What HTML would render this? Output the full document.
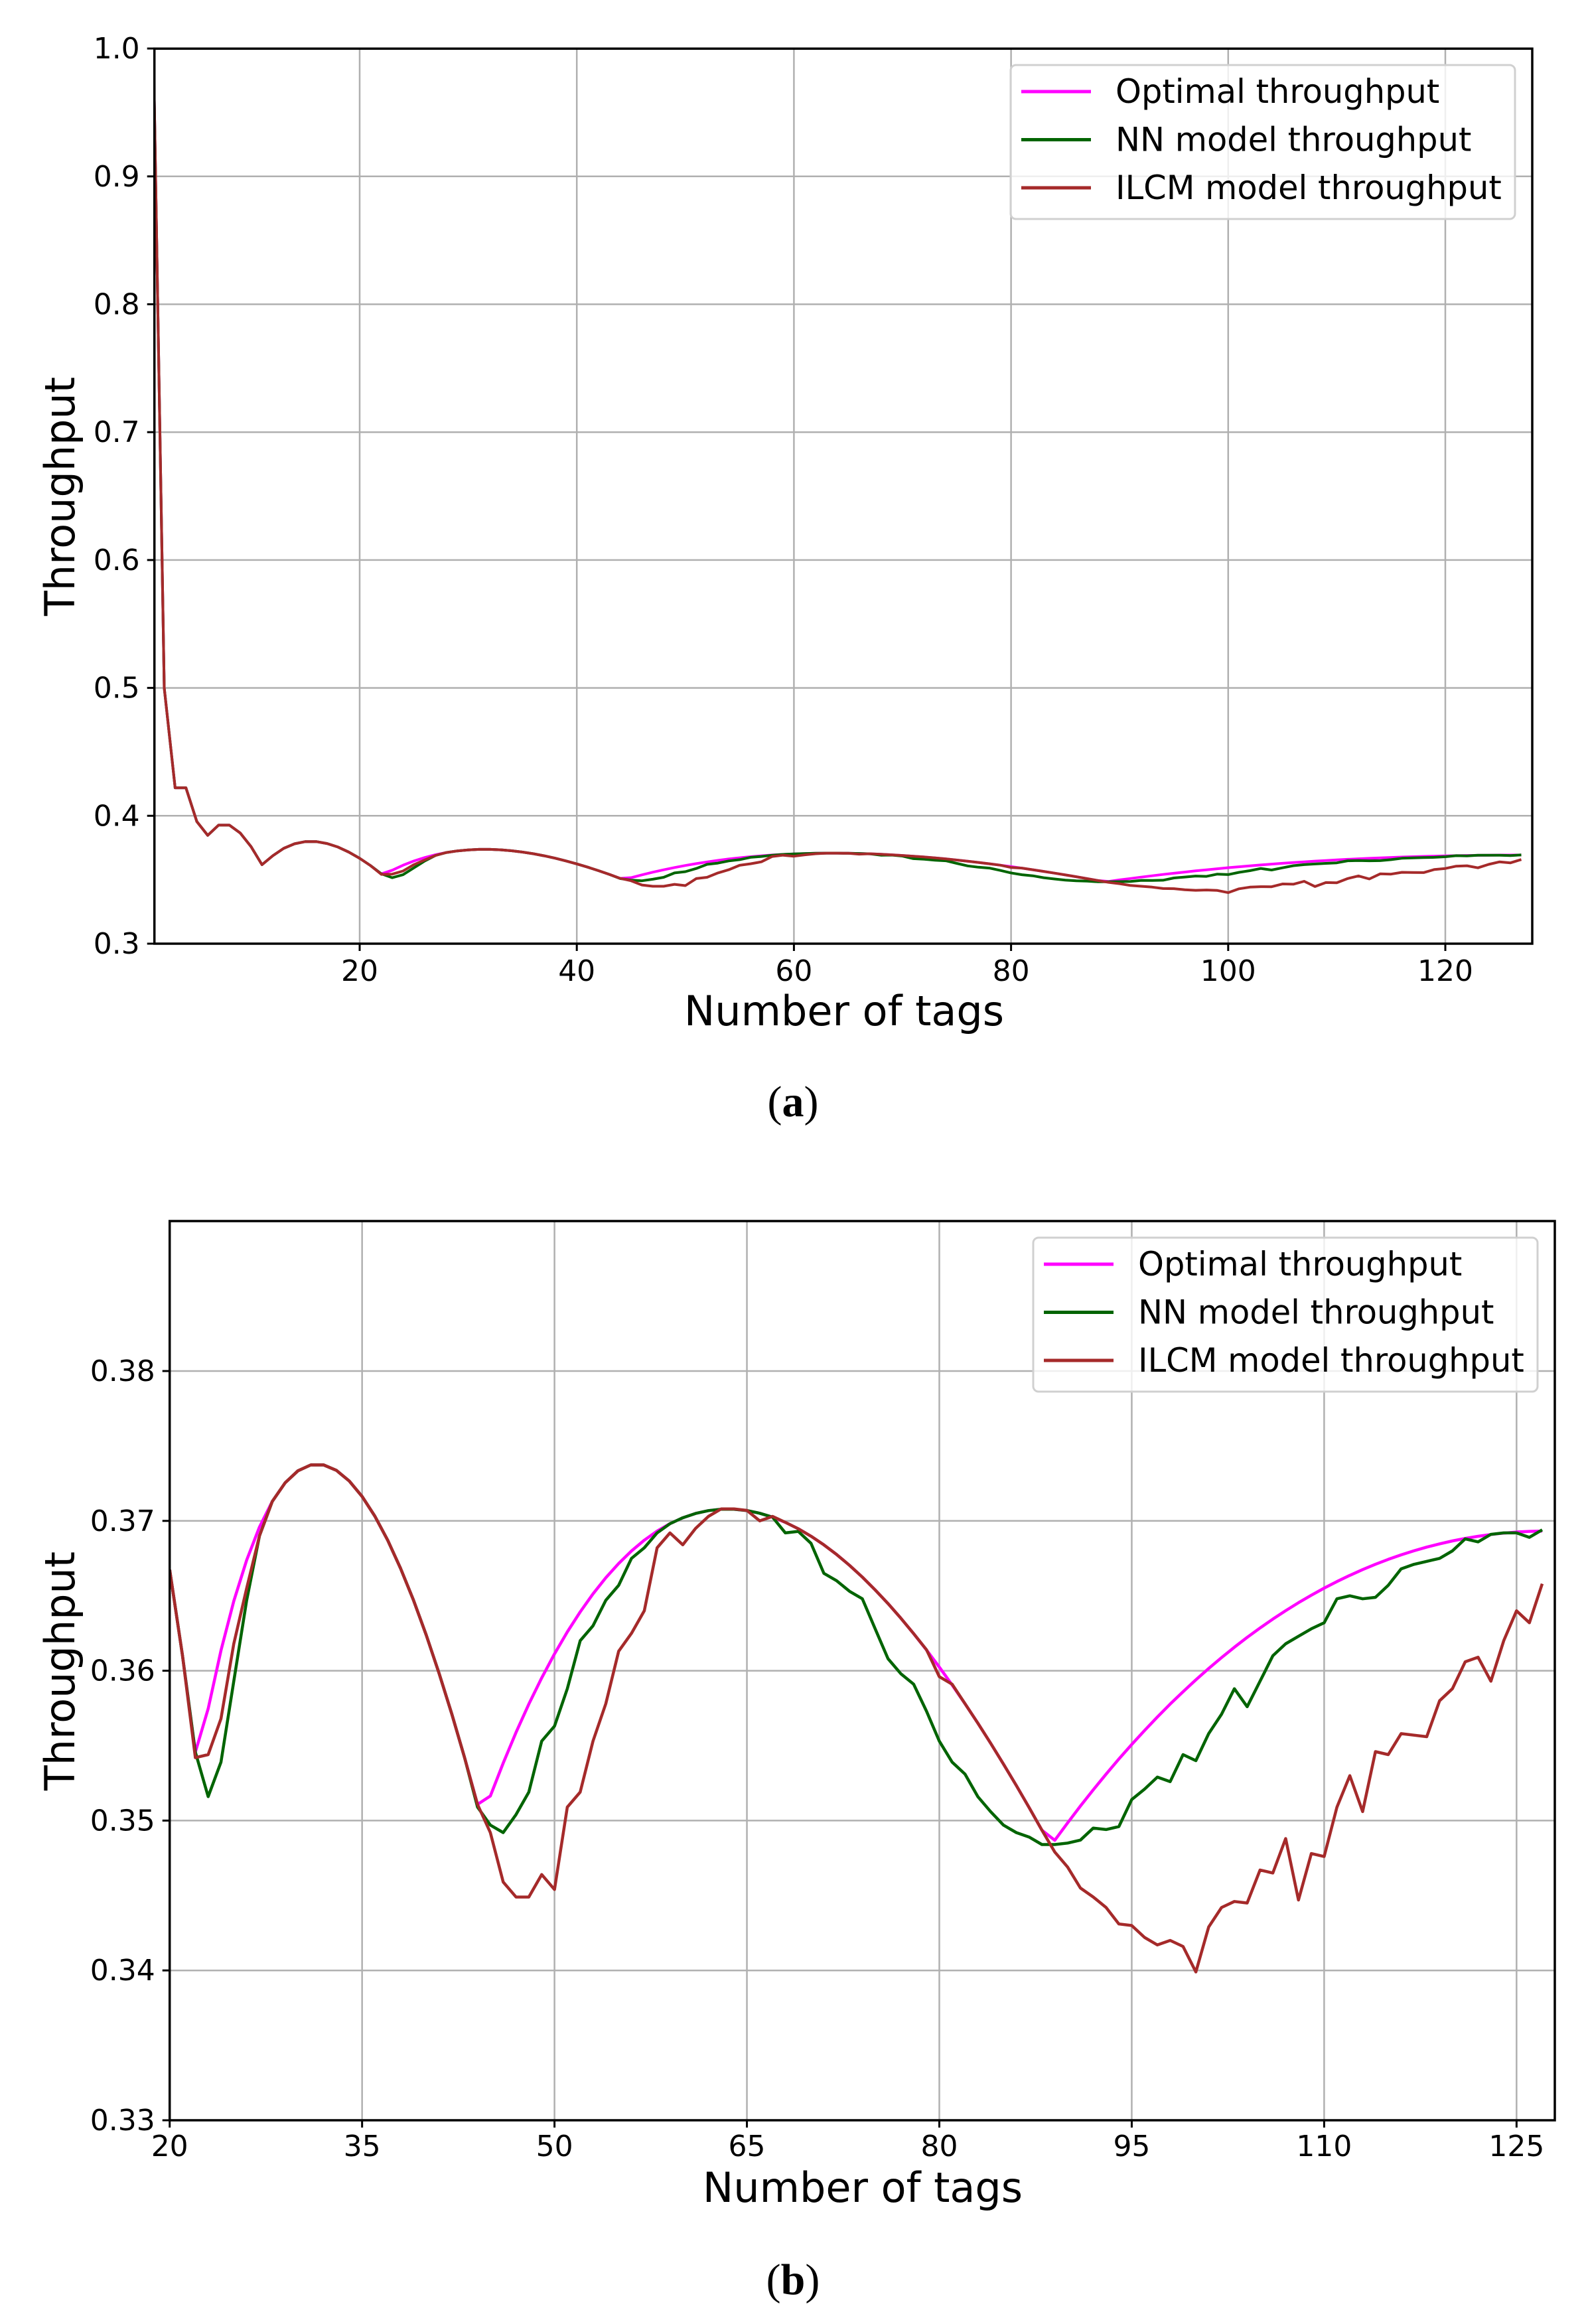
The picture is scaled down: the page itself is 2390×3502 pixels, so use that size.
<!DOCTYPE html>
<html><head><meta charset="utf-8"><style>
html,body{margin:0;padding:0;background:#fff;width:2390px;height:3502px;overflow:hidden}
svg{display:block}
text{font-family:"DejaVu Sans","Liberation Sans",sans-serif;fill:#000}
.cap{font-family:"Liberation Serif",serif}
</style></head><body>
<svg id="s" width="2390" height="3502" viewBox="0 0 2390 3502" xmlns="http://www.w3.org/2000/svg">
<defs>
<clipPath id="ca"><rect x="232" y="73" width="2077" height="1349"/></clipPath>
<clipPath id="cb"><rect x="255" y="1840" width="2088" height="1355"/></clipPath>
</defs>
<g id="ga"></g>
<g id="gb"></g>
<text x="1272" y="1545" font-size="62" text-anchor="middle">Number of tags</text>
<text transform="translate(112,748) rotate(-90)" font-size="62" text-anchor="middle">Throughput</text>
<text class="cap" x="1195" y="1682" font-size="66" text-anchor="middle">(<tspan font-weight="bold">a</tspan>)</text>
<text x="1300" y="3318" font-size="62" text-anchor="middle">Number of tags</text>
<text transform="translate(112,2518) rotate(-90)" font-size="62" text-anchor="middle">Throughput</text>
<text class="cap" x="1195" y="3457" font-size="66" text-anchor="middle">(<tspan font-weight="bold">b</tspan>)</text>
</svg>
<script>
(function(){
var NS="http://www.w3.org/2000/svg";
function el(p,tag,attrs,txt){var e=document.createElementNS(NS,tag);for(var k in attrs)e.setAttribute(k,attrs[k]);if(txt!==undefined)e.textContent=txt;p.appendChild(e);return e;}
function opt(n){var best=0;for(var L=1;L<=1024;L*=2){var t=n/L*Math.pow(1-1/L,n-1);if(L==1)t=(n==1)?1:0;if(t>best)best=t;}return best;}
var NN={23:.3516,24:.3539,25:.3593,26:.3647,27:.369,44:.3509,45:.3497,46:.3492,47:.3504,48:.3519,49:.3553,50:.3563,51:.3588,52:.362,53:.363,54:.3647,55:.3657,56:.3675,57:.3682,58:.3692,
68:.3692,69:.3693,70:.3685,71:.3665,72:.366,73:.3653,74:.3648,75:.3628,76:.3608,77:.3598,78:.3591,79:.3573,80:.3553,81:.3539,82:.3531,83:.3516,84:.3506,85:.3497,86:.3492,87:.3489,88:.3484,89:.3484,90:.3485,91:.3487,92:.3495,93:.3494,94:.3496,95:.3514,96:.3521,97:.3529,98:.3526,99:.3544,100:.354,101:.3558,102:.3571,103:.3588,104:.3576,105:.3593,106:.361,107:.3618,108:.3623,109:.3628,110:.3632,111:.3648,112:.365,113:.3648,114:.3649,115:.3657,116:.3668,117:.3671,118:.3673,119:.3675,120:.368,121:.3688,122:.3686,123:.3691,124:.3692,125:.3692,126:.3689,127:.3694};
var IL={22:.3542,23:.3544,24:.3568,25:.3618,26:.3655,27:.369,45:.3492,46:.3459,47:.3449,48:.3449,49:.3464,50:.3454,51:.3509,52:.3519,53:.3553,54:.3578,55:.3613,56:.3625,57:.364,58:.3682,59:.3692,60:.3684,61:.3695,62:.3703,63:.3708,64:.3708,65:.3707,66:.37,67:.3703,
79:.3614,80:.3596,81:.3591,
89:.3479,90:.3469,91:.3455,92:.3449,93:.3442,94:.3431,95:.343,96:.3422,97:.3417,98:.342,99:.3416,100:.3399,101:.3429,102:.3442,103:.3446,104:.3445,105:.3467,106:.3465,107:.3488,108:.3447,109:.3478,110:.3476,111:.3509,112:.353,113:.3506,114:.3546,115:.3544,116:.3558,117:.3557,118:.3556,119:.358,120:.3588,121:.3606,122:.3609,123:.3593,124:.362,125:.364,126:.3632,127:.3658};
function val(map,n){if(map&&map[n]!==undefined)return map[n];return opt(n);}
function chart(g,cfg){
  cfg.xt.forEach(function(t){var x=cfg.X(t);el(g,'line',{x1:x,x2:x,y1:cfg.top,y2:cfg.bot,stroke:'#b0b0b0','stroke-width':2.5});
    el(g,'line',{x1:x,x2:x,y1:cfg.bot,y2:cfg.bot+11,stroke:'#000','stroke-width':3});
    el(g,'text',{x:x,y:cfg.bot+cfg.xty,'font-size':44,'text-anchor':'middle'},String(t));});
  cfg.yt.forEach(function(t){var y=cfg.Y(t);el(g,'line',{x1:cfg.left,x2:cfg.right,y1:y,y2:y,stroke:'#b0b0b0','stroke-width':2.5});
    el(g,'line',{x1:cfg.left-11,x2:cfg.left,y1:y,y2:y,stroke:'#000','stroke-width':3});
    el(g,'text',{x:cfg.left-22,y:y+15,'font-size':44,'text-anchor':'end'},cfg.yf(t));});
  var series=[[null,'#ff00ff'],[NN,'#006400'],[IL,'#a52a2a']];
  var cg=el(g,'g',{'clip-path':'url(#'+cfg.clip+')'});
  series.forEach(function(s){var d='';for(var n=cfg.n0;n<=127;n++){var v=val(s[0],n);d+=(n==cfg.n0?'M':'L')+cfg.X(n).toFixed(1)+' '+cfg.Y(v).toFixed(1);}
    el(cg,'path',{d:d,fill:'none',stroke:s[1],'stroke-width':cfg.lw,'stroke-linejoin':'round'});});
  el(g,'rect',{x:cfg.left,y:cfg.top,width:cfg.right-cfg.left,height:cfg.bot-cfg.top,fill:'none',stroke:'#000','stroke-width':3.5});
  var lx=cfg.lgx,ly=cfg.lgy;
  el(g,'rect',{x:lx,y:ly,width:760,height:232,rx:8,fill:'#fff','fill-opacity':0.8,stroke:'#d0d0d0','stroke-width':3});
  var names=['Optimal throughput','NN model throughput','ILCM model throughput'];
  for(var i=0;i<3;i++){var yy=ly+40+i*72.5;
    el(g,'line',{x1:lx+16,x2:lx+121,y1:yy,y2:yy,stroke:series[i][1],'stroke-width':5});
    el(g,'text',{x:lx+158,y:yy+17,'font-size':49.5},names[i]);}
}
chart(document.getElementById('ga'),{left:232.7,right:2309,top:73.3,bot:1422,
  X:function(n){return 542+(n-20)*16.36;},Y:function(v){return 1422-(v-0.3)*1927;},
  xt:[20,40,60,80,100,120],yt:[0.3,0.4,0.5,0.6,0.7,0.8,0.9,1.0],yf:function(t){return t.toFixed(1);},
  xty:56,n0:1,clip:'ca',lw:4,lgx:1523,lgy:98});
chart(document.getElementById('gb'),{left:255.7,right:2343,top:1840,bot:3195,
  X:function(n){return 255.7+(n-20)*19.33;},Y:function(v){return 3195-(v-0.33)*22580;},
  xt:[20,35,50,65,80,95,110,125],yt:[0.33,0.34,0.35,0.36,0.37,0.38],yf:function(t){return t.toFixed(2);},
  xty:54,n0:20,clip:'cb',lw:4.5,lgx:1557,lgy:1865});
})();
</script>
</body></html>
